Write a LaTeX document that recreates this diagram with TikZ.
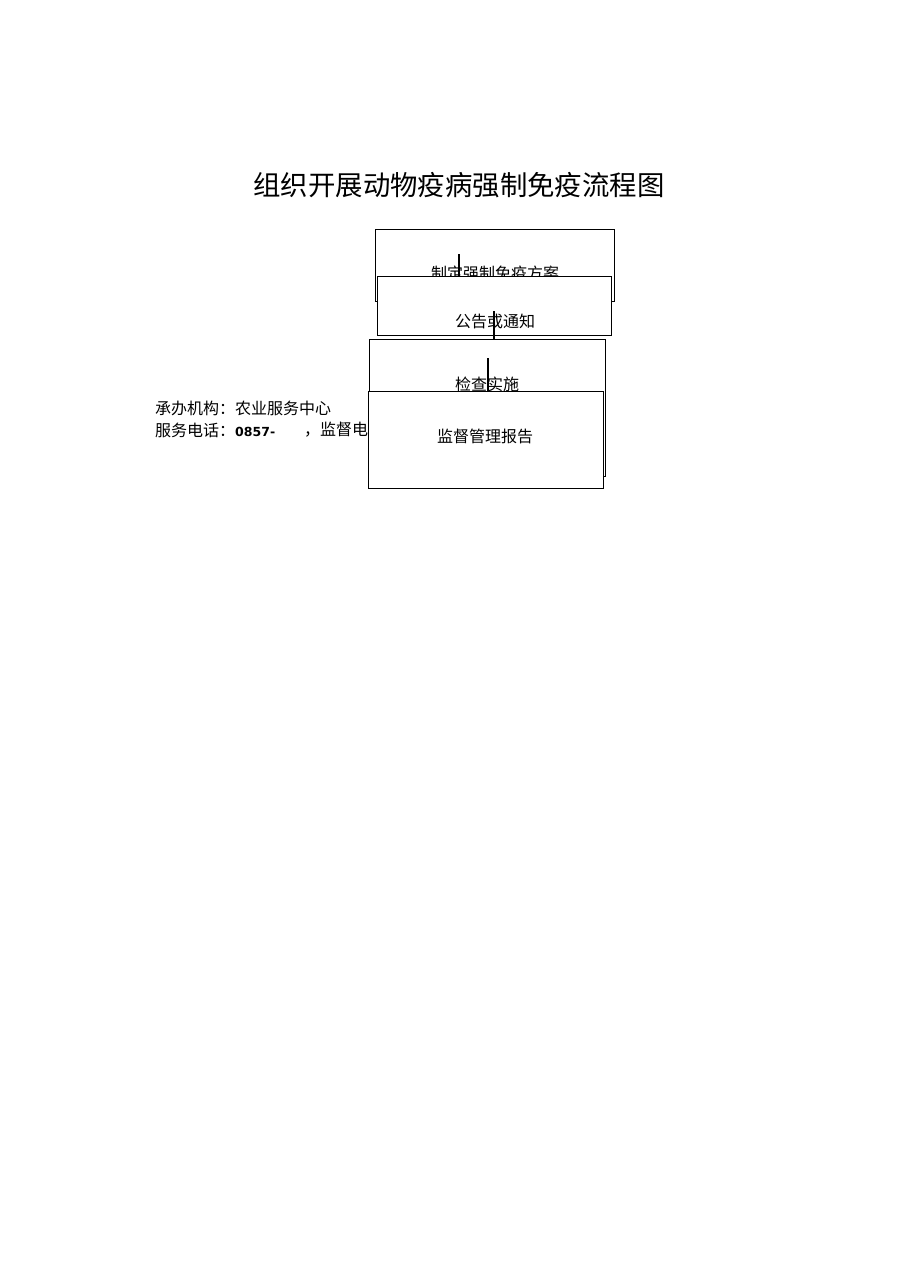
\documentclass[tikz,border=0pt]{standalone}
\usepackage{fontspec}
\setmainfont{Noto Sans CJK SC}
\newfontfamily\latinfont{DejaVu Sans}
\begin{document}
\begin{tikzpicture}[x=1pt,y=-1pt,
  box/.style={draw=black,line width=1.4pt,fill=white,inner sep=0pt,anchor=north west},
  lbl/.style={inner sep=0pt,font=\fontsize{16}{18}\selectfont},
  conn/.style={draw=black,line width=1.3pt}]
\useasboundingbox (0,0) rectangle (909,1286);
\fill[white] (0,0) rectangle (909,1286);
% title
\node[inner sep=0pt,font=\fontsize{27.4}{30}\selectfont] (title) at (459,185) {组织开展动物疫病强制免疫流程图};
% left texts
\node[lbl,anchor=west] (org) at (155,408) {承办机构：农业服务中心};
\node[lbl,anchor=west] (tel) at (155,430) {服务电话：{\latinfont\bfseries\fontsize{12.5}{16}\selectfont 0857-}};
\node[lbl,anchor=west] (sup) at (304,430) {，监督电};
% box 1
\node[box,minimum width=239pt,minimum height=72pt] (b1) at (375,229) {};
\node[lbl] (t1) at (495,273) {制定强制免疫方案};
\coordinate (c1a) at (459,254);
\coordinate (c1b) at (459,277);
\draw[conn] (c1a) -- (c1b);
% box 2
\node[box,minimum width=234pt,minimum height=59pt] (b2) at (377,276) {};
\node[lbl] (t2) at (495,321) {公告或通知};
\coordinate (c2a) at (494,311);
\coordinate (c2b) at (494,340);
\draw[conn] (c2a) -- (c2b);
% box 3
\node[box,minimum width=236pt,minimum height=137pt] (b3) at (369,339) {};
\node[lbl] (t3) at (487,384) {检查实施};
\coordinate (c3a) at (488,358);
\coordinate (c3b) at (488,392);
\draw[conn] (c3a) -- (c3b);
% box 4
\node[box,minimum width=235pt,minimum height=97pt] (b4) at (368,391) {};
\node[lbl] (t4) at (485,436) {监督管理报告};
\end{tikzpicture}
\end{document}
